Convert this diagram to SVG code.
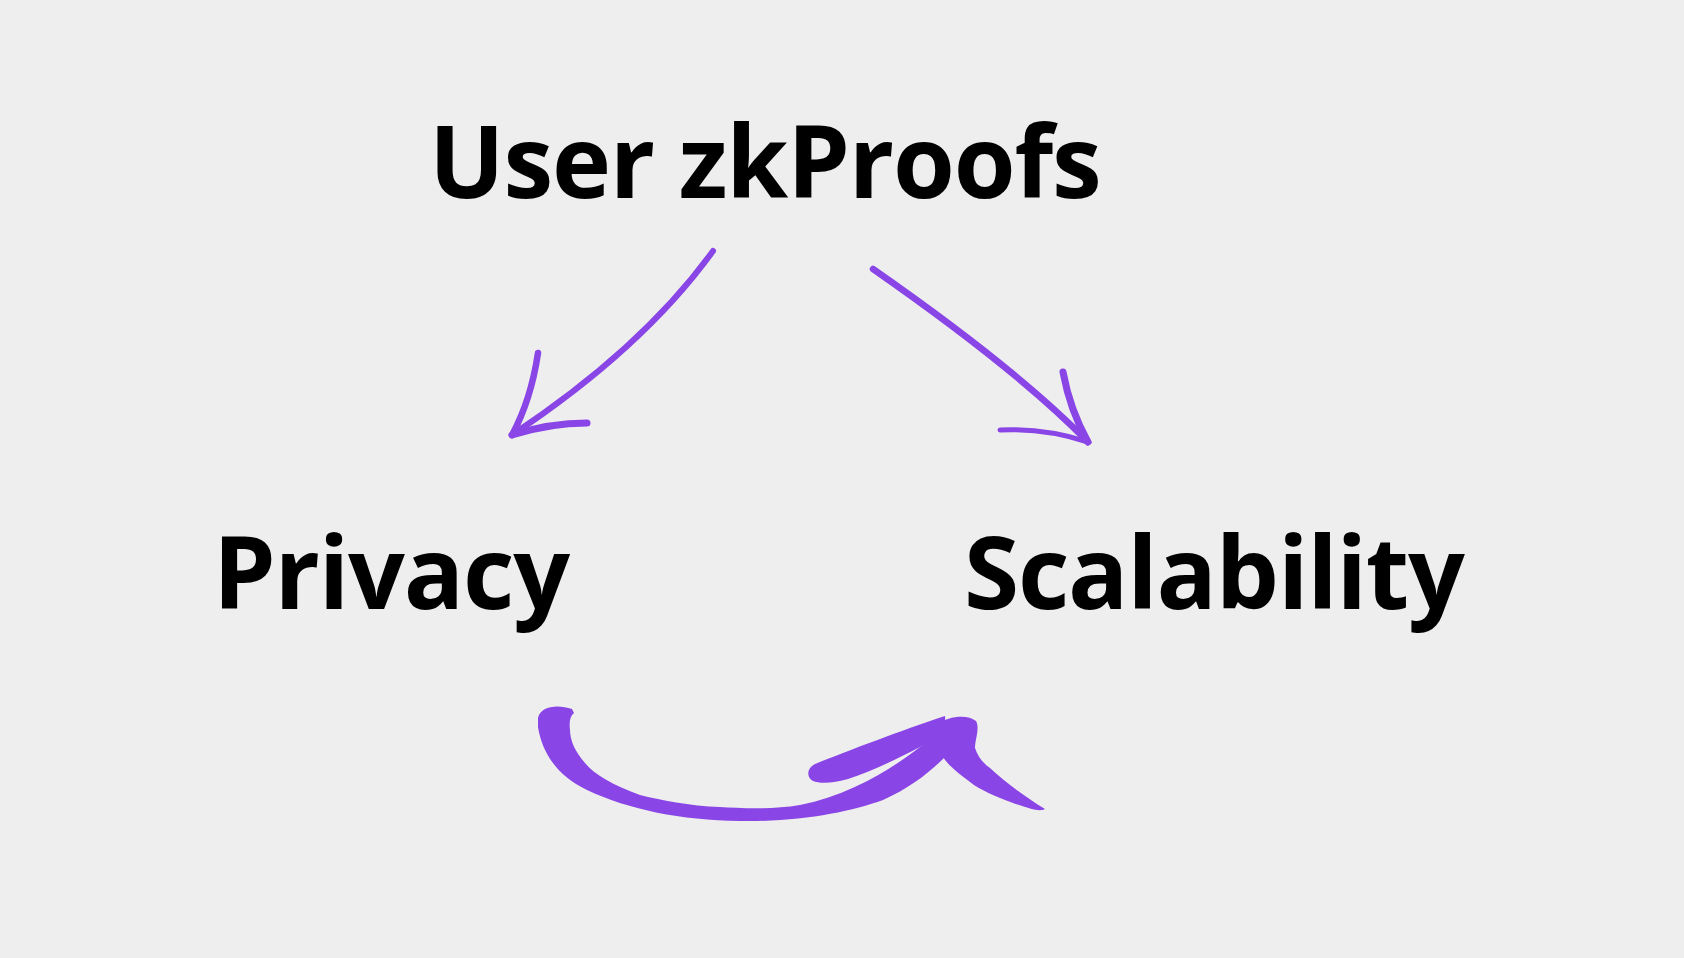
<svg xmlns="http://www.w3.org/2000/svg" width="1684" height="958" viewBox="0 0 1684 958">
<style>
.lbl{font-family:"Open Sans","Noto Sans",sans-serif;font-weight:750;font-size:100px;fill:#000;letter-spacing:-1.2px}
.pen{fill:none;stroke:#8a45e6;stroke-linecap:round;stroke-linejoin:round}
.brush{fill:#8a45e6;stroke:none}
</style>
<rect width="1684" height="958" fill="#eeeeee"/>
<g id="node-user-zkproofs"><text class="lbl" x="429" y="198">User zkProofs</text></g>
<g id="node-privacy"><text class="lbl" x="213" y="609">Privacy</text></g>
<g id="node-scalability"><text class="lbl" x="964" y="609">Scalability</text></g>
<g id="connectors">
  <g id="arrow-user-privacy">
    <path class="pen" stroke-width="6" d="M713,251 Q643,348 512,435"/>
    <path class="pen" stroke-width="6.5" d="M512,435 Q531,400 538,353"/>
    <path class="pen" stroke-width="7" d="M512,435 Q550,423 587,423"/>
  </g>
  <g id="arrow-user-scalability">
    <path class="pen" stroke-width="6.5" d="M873,269 Q1018,370 1088,442"/>
    <path class="pen" stroke-width="7" d="M1088,442 Q1070,410 1063,372"/>
    <path class="pen" stroke-width="5" d="M1088,442 Q1045,428 1000,430"/>
  </g>
  <g id="arrow-privacy-scalability">
    <path class="brush" d="M572,709 C558,704 540,706 538,718 L538,727 C542,752 556,775 587,790 C630,810 680,820 740,821 C800,822 850,812 883,800 C910,788 930,772 945,757 L943,727 C935,737 928,742 920,747 C890,770 850,795 800,805 C770,810 740,808 720,807 C690,806 660,800 640,795 C613,785 595,775 585,763 C575,752 570,740 570,730 C569,722 570,716 574,713 Z"/>
    <path class="brush" d="M815,764 C850,750 900,731 945,716 L946,738 C935,740 928,743 920,747 C895,760 870,772 848,779 C835,783 820,784 813,781 C806,777 807,768 815,764 Z"/>
    <path class="brush" d="M938,724 C948,716 968,714 976,721 C980,728 975,740 975,748 C978,757 983,763 990,768 C1005,782 1025,797 1045,809 C1040,812 1030,809 1013,803 C995,796 980,790 970,782 C958,773 948,765 943,757 Z"/>
  </g>
</g>
</svg>
